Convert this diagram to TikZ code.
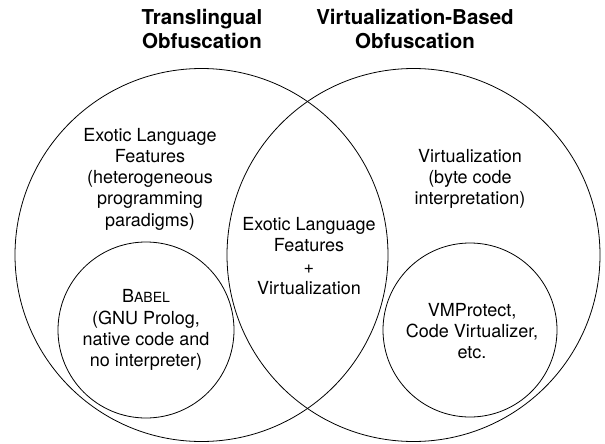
\documentclass[tikz,border=0pt]{standalone}
\usepackage{fontspec}
\setmainfont{TeX Gyre Heros}
\begin{document}
\begin{tikzpicture}[x=1pt,y=-1pt,
  ring/.style={draw=black,line width=0.8pt},
  body/.style={align=center,inner sep=0pt,font=\fontsize{18}{21.2}\selectfont},
  title/.style={align=center,inner sep=0pt,font=\fontsize{20.5}{23.5}\selectfont\bfseries}]
\useasboundingbox (0,0) rectangle (605,444);
\draw[ring] (201.5,255) circle (186.5);
\draw[ring] (413.5,255) circle (186.5);
\draw[ring] (146,330) circle (88);
\draw[ring] (470,330) circle (87);
\node[title] (t1) at (202,29) {Translingual\\Obfuscation};
\node[title] (t2) at (415,29) {Virtualization-Based\\Obfuscation};
\node[body] (exotic) at (150,179) {Exotic Language\\Features\\(heterogeneous\\programming\\paradigms)};
\node[body] (mid) at (309,256) {Exotic Language\\Features\\+\\Virtualization};
\node[body] (virt) at (470,179) {Virtualization\\(byte code\\interpretation)};
\node[body] (babel) at (146,330) {B{\fontsize{14}{21.2}\selectfont ABEL}\\(GNU Prolog,\\native code and\\no interpreter)};
\node[body] (vmp) at (472,331) {VMProtect,\\Code Virtualizer,\\etc.};
\end{tikzpicture}
\end{document}
